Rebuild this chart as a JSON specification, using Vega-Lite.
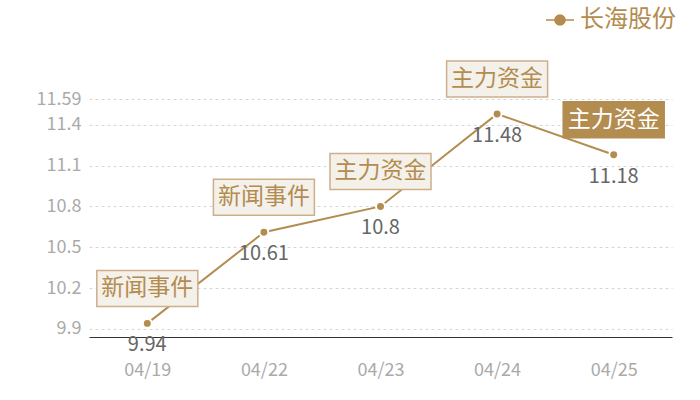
{
  "$schema": "https://vega.github.io/schema/vega-lite/v6.json",
  "autosize": "none",
  "width": 583,
  "height": 238,
  "padding": {"left": 89, "top": 99, "right": 28, "bottom": 63},
  "background": "white",
  "config": {
    "view": {"stroke": null},
    "font": "Noto Sans CJK SC"
  },
  "data": {
    "values": [
      {"date": "04/19", "close": 9.94, "event": "新闻事件", "hl": false, "stock": "长海股份"},
      {"date": "04/22", "close": 10.61, "event": "新闻事件", "hl": false, "stock": "长海股份"},
      {"date": "04/23", "close": 10.8, "event": "主力资金", "hl": false, "stock": "长海股份"},
      {"date": "04/24", "close": 11.48, "event": "主力资金", "hl": false, "stock": "长海股份"},
      {"date": "04/25", "close": 11.18, "event": "主力资金", "hl": true, "stock": "长海股份"}
    ]
  },
  "encoding": {
    "x": {
      "field": "date",
      "type": "ordinal",
      "sort": null,
      "scale": {"type": "point", "padding": 0.5},
      "axis": {
        "title": null,
        "labelAngle": 0,
        "labelColor": "#aaaaaa",
        "labelFontSize": 18,
        "labelPadding": 24,
        "ticks": false,
        "grid": false,
        "domainColor": "#333333",
        "domainWidth": 1
      }
    },
    "y": {
      "field": "close",
      "type": "quantitative",
      "scale": {"domain": [9.84, 11.59], "nice": false, "zero": false},
      "axis": {
        "title": null,
        "values": [9.9, 10.2, 10.5, 10.8, 11.1, 11.4, 11.59],
        "format": ".2~f",
        "labelColor": "#aaaaaa",
        "labelFontSize": 18,
        "labelPadding": 8,
        "ticks": false,
        "domain": false,
        "gridColor": "#d6d6d6",
        "gridDash": [3, 3],
        "gridWidth": 1
      }
    }
  },
  "layer": [
    {
      "mark": {"type": "line", "strokeWidth": 2},
      "encoding": {
        "color": {
          "field": "stock",
          "type": "nominal",
          "scale": {"range": ["#b38c4f"]},
          "legend": {
            "title": null,
            "orient": "none",
            "legendX": 456,
            "legendY": -94,
            "symbolType": "M-1,0H1M0.36,0A0.36,0.36 0 1,1 -0.36,0A0.36,0.36 0 1,1 0.36,0Z",
            "symbolSize": 784,
            "symbolStrokeWidth": 1.5,
            "labelFontSize": 24,
            "labelColor": "#b38c4f",
            "labelOffset": 5,
            "encode": {
              "symbols": {
                "update": {
                  "fill": {"value": "#b38c4f"},
                  "stroke": {"value": "#b38c4f"}
                }
              }
            }
          }
        }
      }
    },
    {
      "mark": {"type": "point", "filled": true, "size": 80, "color": "#b38c4f", "stroke": "white", "strokeWidth": 2, "opacity": 1}
    },
    {
      "mark": {
        "type": "point",
        "shape": "M-1.01,-1.06H1.01V-0.34H-1.01Z",
        "size": 10000,
        "strokeWidth": 1.5,
        "opacity": 1
      },
      "encoding": {
        "fill": {"condition": {"test": "datum.hl", "value": "#b38c4f"}, "value": "#f4f0ea"},
        "stroke": {"condition": {"test": "datum.hl", "value": "#b38c4f"}, "value": "#cdb08a"}
      }
    },
    {
      "mark": {"type": "text", "dy": -35, "fontSize": 23, "baseline": "middle", "align": "center"},
      "encoding": {
        "text": {"field": "event"},
        "color": {"condition": {"test": "datum.hl", "value": "#ffffff"}, "value": "#b38c4f"}
      }
    },
    {
      "mark": {"type": "text", "dy": 22, "fontSize": 20, "baseline": "middle", "align": "center", "color": "#666666"},
      "encoding": {
        "text": {"field": "close", "type": "quantitative", "format": "~g"}
      }
    }
  ]
}
